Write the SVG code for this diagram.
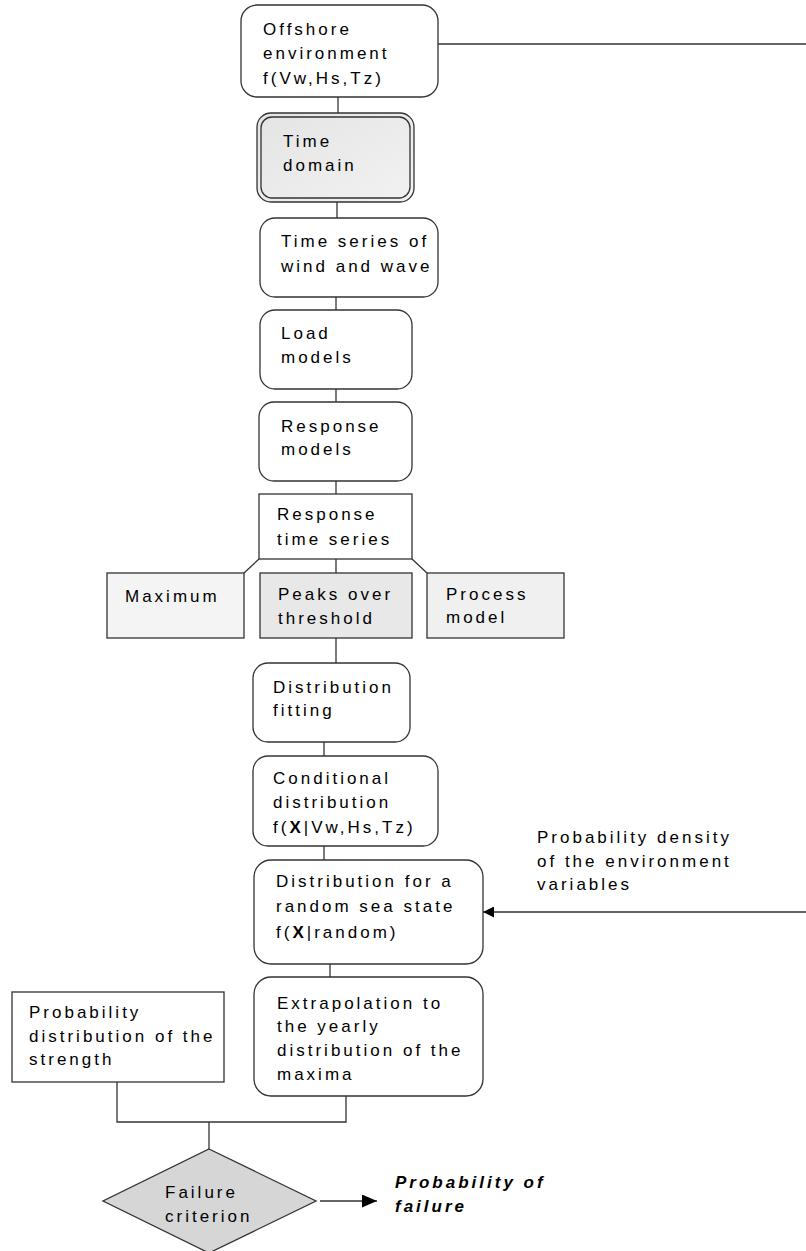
<svg xmlns="http://www.w3.org/2000/svg" width="806" height="1251" viewBox="0 0 806 1251">
<style>
.t{font-family:"Liberation Sans",Arial,sans-serif;font-size:17px;letter-spacing:3px;fill:#000}
.b{stroke:#333;stroke-width:1.3;fill:#fff}
.c{stroke:#333;stroke-width:1.3;fill:none}
.bi{font-weight:bold;font-style:italic}
</style>
<defs>
<marker id="ah" viewBox="0 0 10 10" refX="10" refY="5" markerWidth="11" markerHeight="11" markerUnits="userSpaceOnUse" orient="auto">
<path d="M0,0 L10,5 L0,10 Z" fill="#000"/>
</marker>
<marker id="ah2" viewBox="0 0 10 10" refX="10" refY="5" markerWidth="15" markerHeight="13" markerUnits="userSpaceOnUse" orient="auto" preserveAspectRatio="none">
<path d="M0,0 L10,5 L0,10 Z" fill="#000"/>
</marker>
<linearGradient id="gtd" x1="0" y1="0" x2="1" y2="1">
<stop offset="0" stop-color="#e4e4e4"/><stop offset="1" stop-color="#f2f2f2"/>
</linearGradient>
</defs>
<g id="connectors">
<line class="c" x1="438" y1="44" x2="806" y2="44"/>
<line class="c" x1="338" y1="97" x2="338" y2="113"/>
<line class="c" x1="337" y1="202" x2="337" y2="218"/>
<line class="c" x1="336" y1="297" x2="336" y2="310"/>
<line class="c" x1="336" y1="389" x2="336" y2="402"/>
<line class="c" x1="336" y1="481" x2="336" y2="494"/>
<line class="c" x1="336" y1="559" x2="336" y2="573"/>
<line class="c" x1="259" y1="559" x2="244" y2="573"/>
<line class="c" x1="412" y1="559" x2="427" y2="573"/>
<line class="c" x1="336" y1="638" x2="336" y2="663"/>
<line class="c" x1="324" y1="742" x2="324" y2="756"/>
<line class="c" x1="324" y1="846" x2="324" y2="860"/>
<line class="c" x1="330" y1="964" x2="330" y2="977"/>
<line class="c" x1="806" y1="912" x2="483" y2="912" marker-end="url(#ah)"/>
<polyline class="c" points="117,1082 117,1122 346,1122 346,1096"/>
<line class="c" x1="209" y1="1122" x2="209" y2="1149"/>
<line class="c" x1="320" y1="1201" x2="377" y2="1201" marker-end="url(#ah2)"/>
</g>
<g id="offshore">
<rect class="b" x="241" y="5" width="197" height="92" rx="16"/>
<text class="t" x="263" y="35">Offshore</text>
<text class="t" x="263" y="59">environment</text>
<text class="t" x="263" y="84">f(Vw,Hs,Tz)</text>
</g>
<g id="time-domain">
<rect x="257" y="113" width="157" height="89" rx="14" fill="url(#gtd)" stroke="#333" stroke-width="1.3"/>
<rect x="261" y="117" width="149" height="81" rx="11" fill="none" stroke="#333" stroke-width="1.3"/>
<text class="t" x="283" y="147">Time</text>
<text class="t" x="283" y="171">domain</text>
</g>
<g id="time-series">
<rect class="b" x="260" y="218" width="178" height="79" rx="15"/>
<text class="t" x="281" y="247">Time series of</text>
<text class="t" x="281" y="272">wind and wave</text>
</g>
<g id="load-models">
<rect class="b" x="260" y="310" width="152" height="79" rx="15"/>
<text class="t" x="281" y="339">Load</text>
<text class="t" x="281" y="363">models</text>
</g>
<g id="response-models">
<rect class="b" x="259" y="402" width="153" height="79" rx="15"/>
<text class="t" x="281" y="432">Response</text>
<text class="t" x="281" y="455">models</text>
</g>
<g id="response-time-series">
<rect class="b" x="259" y="494" width="153" height="65"/>
<text class="t" x="277" y="520">Response</text>
<text class="t" x="277" y="545">time series</text>
</g>
<g id="maximum">
<rect x="107" y="573" width="137" height="65" fill="#f4f4f4" stroke="#333" stroke-width="1.3"/>
<text class="t" x="125" y="602">Maximum</text>
</g>
<g id="peaks">
<rect x="260" y="573" width="152" height="65" fill="#e8e8e8" stroke="#333" stroke-width="1.3"/>
<text class="t" x="278" y="600">Peaks over</text>
<text class="t" x="278" y="624">threshold</text>
</g>
<g id="process-model">
<rect x="427" y="573" width="137" height="65" fill="#f0f0f0" stroke="#333" stroke-width="1.3"/>
<text class="t" x="446" y="600">Process</text>
<text class="t" x="446" y="623">model</text>
</g>
<g id="distribution-fitting">
<rect class="b" x="253" y="663" width="157" height="79" rx="15"/>
<text class="t" x="273" y="693">Distribution</text>
<text class="t" x="273" y="716">fitting</text>
</g>
<g id="conditional">
<rect class="b" x="253" y="756" width="185" height="90" rx="15"/>
<text class="t" x="273" y="784">Conditional</text>
<text class="t" x="273" y="808">distribution</text>
<text class="t" x="273" y="833">f(<tspan font-weight="bold">X</tspan>|Vw,Hs,Tz)</text>
</g>
<g id="random-sea-state">
<rect class="b" x="254" y="860" width="229" height="104" rx="17"/>
<text class="t" x="276" y="887">Distribution for a</text>
<text class="t" x="276" y="912">random sea state</text>
<text class="t" x="276" y="938">f(<tspan font-weight="bold">X</tspan>|random)</text>
</g>
<g id="env-density-label">
<text class="t" x="537" y="843">Probability density</text>
<text class="t" x="537" y="867">of the environment</text>
<text class="t" x="537" y="890">variables</text>
</g>
<g id="extrapolation">
<rect class="b" x="254" y="977" width="229" height="119" rx="17"/>
<text class="t" x="277" y="1009">Extrapolation to</text>
<text class="t" x="277" y="1032">the yearly</text>
<text class="t" x="277" y="1056">distribution of the</text>
<text class="t" x="277" y="1080">maxima</text>
</g>
<g id="strength">
<rect class="b" x="12" y="992" width="212" height="90"/>
<text class="t" x="29" y="1018">Probability</text>
<text class="t" x="29" y="1042">distribution of the</text>
<text class="t" x="29" y="1065">strength</text>
</g>
<g id="failure-criterion">
<polygon points="209,1149 316,1201 209,1253 103,1201" fill="#d6d6d6" stroke="#333" stroke-width="1.3"/>
<text class="t" x="165" y="1198">Failure</text>
<text class="t" x="165" y="1222">criterion</text>
</g>
<g id="probability-of-failure">
<text class="t bi" x="395" y="1188">Probability of</text>
<text class="t bi" x="395" y="1212">failure</text>
</g>
</svg>
